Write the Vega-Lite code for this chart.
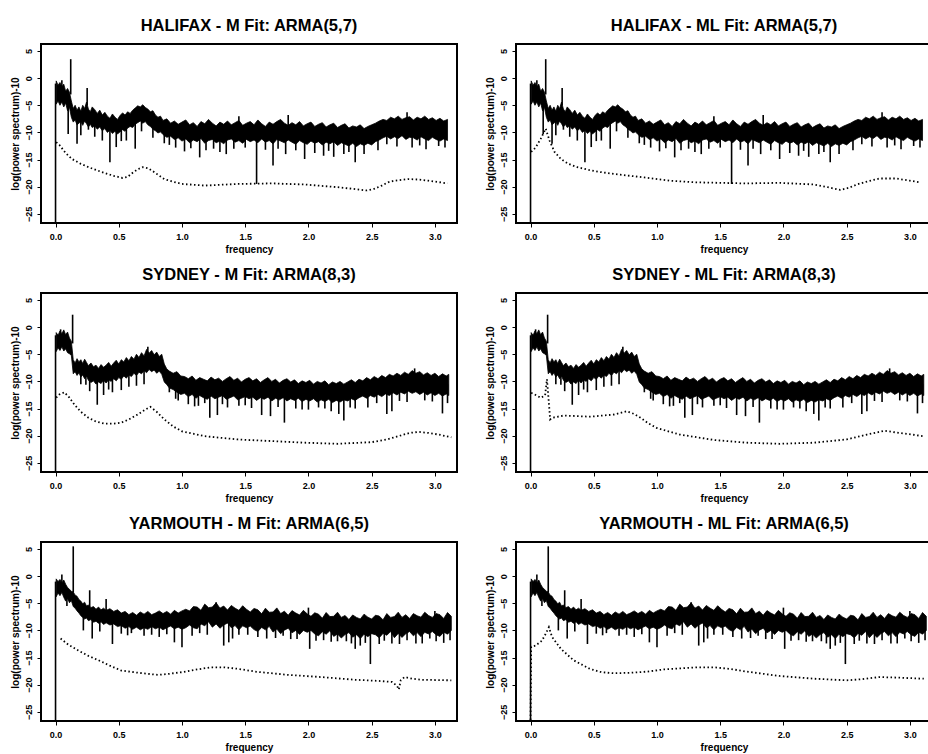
{
"$schema":"https://vega.github.io/schema/vega-lite/v6.json",
"padding":{"left":9,"top":16,"right":0,"bottom":0},
"background":"white",
"datasets":{
"hal":[{"f":0.005,"hi":-0.5,"y":-4.8},{"f":0.02,"hi":-1.3,"y":-4.2},{"f":0.035,"hi":-0.8,"y":-5.0},{"f":0.05,"hi":-1.6,"y":-4.4},{"f":0.065,"hi":-1.1,"y":-5.3},{"f":0.08,"hi":-2.4,"y":-4.6},{"f":0.095,"hi":-1.9,"y":-6.0},{"f":0.11,"hi":-2.6,"y":-5.4},{"f":0.125,"hi":-4.2,"y":-7.2},{"f":0.14,"hi":-5.6,"y":-8.1},{"f":0.155,"hi":-5.0,"y":-7.7},{"f":0.17,"hi":-5.9,"y":-8.6},{"f":0.185,"hi":-5.3,"y":-8.3},{"f":0.20,"hi":-6.1,"y":-8.0},{"f":0.215,"hi":-5.0,"y":-8.7},{"f":0.23,"hi":-5.6,"y":-7.9},{"f":0.245,"hi":-4.4,"y":-8.4},{"f":0.26,"hi":-5.7,"y":-9.0},{"f":0.275,"hi":-6.2,"y":-8.5},{"f":0.29,"hi":-5.3,"y":-9.1},{"f":0.31,"hi":-5.8,"y":-8.8},{"f":0.33,"hi":-6.5,"y":-9.4},{"f":0.35,"hi":-5.9,"y":-9.0},{"f":0.37,"hi":-6.8,"y":-9.7},{"f":0.39,"hi":-6.3,"y":-9.3},{"f":0.41,"hi":-7.0,"y":-10.0},{"f":0.43,"hi":-7.4,"y":-9.6},{"f":0.45,"hi":-6.6,"y":-10.2},{"f":0.47,"hi":-7.2,"y":-9.8},{"f":0.49,"hi":-7.6,"y":-10.3},{"f":0.51,"hi":-6.9,"y":-9.9},{"f":0.53,"hi":-6.4,"y":-9.5},{"f":0.55,"hi":-6.8,"y":-9.8},{"f":0.57,"hi":-6.2,"y":-9.2},{"f":0.59,"hi":-6.5,"y":-8.9},{"f":0.61,"hi":-5.9,"y":-9.1},{"f":0.63,"hi":-5.5,"y":-8.5},{"f":0.65,"hi":-5.1,"y":-8.2},{"f":0.67,"hi":-5.3,"y":-7.9},{"f":0.69,"hi":-4.9,"y":-8.3},{"f":0.71,"hi":-5.4,"y":-8.0},{"f":0.73,"hi":-5.7,"y":-8.6},{"f":0.75,"hi":-6.2,"y":-8.9},{"f":0.77,"hi":-6.0,"y":-9.4},{"f":0.79,"hi":-6.8,"y":-9.7},{"f":0.81,"hi":-7.2,"y":-10.1},{"f":0.83,"hi":-7.0,"y":-9.9},{"f":0.85,"hi":-7.8,"y":-10.4},{"f":0.88,"hi":-7.5,"y":-10.9},{"f":0.91,"hi":-8.3,"y":-10.7},{"f":0.94,"hi":-7.9,"y":-11.3},{"f":0.97,"hi":-8.5,"y":-11.0},{"f":1.00,"hi":-8.1,"y":-11.6},{"f":1.03,"hi":-7.7,"y":-11.2},{"f":1.06,"hi":-8.6,"y":-11.9},{"f":1.09,"hi":-8.2,"y":-11.4},{"f":1.12,"hi":-8.9,"y":-11.7},{"f":1.15,"hi":-8.0,"y":-11.1},{"f":1.18,"hi":-8.4,"y":-12.0},{"f":1.21,"hi":-7.6,"y":-11.5},{"f":1.24,"hi":-8.3,"y":-11.3},{"f":1.27,"hi":-8.8,"y":-11.9},{"f":1.30,"hi":-8.1,"y":-11.6},{"f":1.33,"hi":-8.5,"y":-12.1},{"f":1.36,"hi":-7.9,"y":-11.4},{"f":1.39,"hi":-8.6,"y":-11.2},{"f":1.42,"hi":-8.2,"y":-11.8},{"f":1.45,"hi":-7.8,"y":-11.5},{"f":1.48,"hi":-8.7,"y":-12.0},{"f":1.51,"hi":-8.3,"y":-11.3},{"f":1.54,"hi":-8.0,"y":-11.7},{"f":1.57,"hi":-8.6,"y":-11.4},{"f":1.60,"hi":-7.7,"y":-11.9},{"f":1.63,"hi":-8.4,"y":-11.2},{"f":1.66,"hi":-8.9,"y":-11.8},{"f":1.69,"hi":-8.1,"y":-11.5},{"f":1.72,"hi":-8.5,"y":-12.1},{"f":1.75,"hi":-8.0,"y":-11.3},{"f":1.78,"hi":-7.6,"y":-11.6},{"f":1.81,"hi":-8.3,"y":-11.9},{"f":1.84,"hi":-8.7,"y":-11.4},{"f":1.87,"hi":-8.2,"y":-11.8},{"f":1.90,"hi":-8.6,"y":-12.2},{"f":1.93,"hi":-8.0,"y":-11.5},{"f":1.96,"hi":-8.8,"y":-11.9},{"f":1.99,"hi":-8.4,"y":-12.2},{"f":2.02,"hi":-8.1,"y":-11.6},{"f":2.05,"hi":-8.9,"y":-12.0},{"f":2.08,"hi":-8.5,"y":-11.7},{"f":2.11,"hi":-8.2,"y":-12.3},{"f":2.14,"hi":-9.0,"y":-11.8},{"f":2.17,"hi":-8.6,"y":-12.1},{"f":2.20,"hi":-8.3,"y":-11.7},{"f":2.23,"hi":-9.1,"y":-12.4},{"f":2.26,"hi":-8.7,"y":-11.9},{"f":2.29,"hi":-8.4,"y":-12.2},{"f":2.32,"hi":-9.2,"y":-12.5},{"f":2.35,"hi":-8.8,"y":-12.0},{"f":2.38,"hi":-9.0,"y":-12.6},{"f":2.41,"hi":-8.6,"y":-12.1},{"f":2.44,"hi":-9.3,"y":-12.4},{"f":2.47,"hi":-8.9,"y":-12.0},{"f":2.50,"hi":-8.6,"y":-12.3},{"f":2.53,"hi":-8.3,"y":-11.7},{"f":2.56,"hi":-7.9,"y":-11.4},{"f":2.59,"hi":-7.6,"y":-11.0},{"f":2.62,"hi":-7.8,"y":-10.7},{"f":2.65,"hi":-7.2,"y":-11.2},{"f":2.68,"hi":-7.5,"y":-10.8},{"f":2.71,"hi":-7.0,"y":-11.1},{"f":2.74,"hi":-7.6,"y":-10.6},{"f":2.77,"hi":-7.3,"y":-11.3},{"f":2.80,"hi":-7.1,"y":-10.9},{"f":2.83,"hi":-7.7,"y":-11.0},{"f":2.86,"hi":-7.2,"y":-11.4},{"f":2.89,"hi":-7.5,"y":-10.8},{"f":2.92,"hi":-7.0,"y":-11.2},{"f":2.95,"hi":-7.6,"y":-11.5},{"f":2.98,"hi":-7.3,"y":-10.9},{"f":3.01,"hi":-7.8,"y":-11.3},{"f":3.04,"hi":-7.4,"y":-11.6},{"f":3.07,"hi":-7.9,"y":-11.2},{"f":3.10,"hi":-7.6,"y":-11.5}],
"hal_sp":[{"f":0,"y":-26.7,"b":-1},{"f":0.12,"y":3.5,"b":-3},{"f":0.05,"y":-0.4,"b":-2},{"f":0.25,"y":-1.8,"b":-5},{"f":0.10,"y":-10.3,"b":-4},{"f":0.17,"y":-12.1,"b":-7},{"f":0.20,"y":-10.5,"b":-7},{"f":0.26,"y":-9.5,"b":-7},{"f":0.31,"y":-10.8,"b":-7.5},{"f":0.37,"y":-11.5,"b":-7.5},{"f":0.43,"y":-15.5,"b":-8},{"f":0.48,"y":-12.7,"b":-8.5},{"f":0.56,"y":-11.5,"b":-8},{"f":0.63,"y":-13.0,"b":-7},{"f":0.77,"y":-11.0,"b":-8},{"f":0.86,"y":-12.0,"b":-9},{"f":0.95,"y":-12.8,"b":-9.5},{"f":1.02,"y":-13.5,"b":-10},{"f":1.14,"y":-14.6,"b":-10},{"f":1.19,"y":-13.3,"b":-10},{"f":1.30,"y":-13.6,"b":-10},{"f":1.35,"y":-14.0,"b":-10},{"f":1.41,"y":-13.0,"b":-10},{"f":1.59,"y":-19.5,"b":-10},{"f":1.66,"y":-13.2,"b":-10},{"f":1.72,"y":-16.1,"b":-10},{"f":1.82,"y":-14.0,"b":-10},{"f":1.97,"y":-14.9,"b":-10},{"f":2.05,"y":-13.8,"b":-10},{"f":2.12,"y":-14.3,"b":-10},{"f":2.20,"y":-14.5,"b":-10},{"f":2.28,"y":-14.0,"b":-10.5},{"f":2.37,"y":-15.5,"b":-10.5},{"f":2.44,"y":-14.0,"b":-10.5},{"f":2.55,"y":-13.3,"b":-10},{"f":2.70,"y":-12.6,"b":-9},{"f":2.82,"y":-12.8,"b":-9},{"f":2.93,"y":-13.1,"b":-9},{"f":3.03,"y":-12.5,"b":-9},{"f":1.45,"y":-7.0,"b":-9},{"f":1.84,"y":-6.8,"b":-9},{"f":2.78,"y":-6.3,"b":-8},{"f":0.90,"y":-12.3,"b":-9.5},{"f":1.07,"y":-12.9,"b":-10},{"f":1.25,"y":-13.0,"b":-10},{"f":1.50,"y":-12.8,"b":-10},{"f":1.76,"y":-13.0,"b":-10},{"f":1.90,"y":-13.3,"b":-10},{"f":2.16,"y":-13.4,"b":-10},{"f":2.32,"y":-13.6,"b":-10.5},{"f":2.62,"y":-12.2,"b":-9},{"f":2.88,"y":-12.4,"b":-9},{"f":3.08,"y":-12.8,"b":-9},{"f":0.52,"y":-11.6,"b":-8},{"f":0.68,"y":-9.8,"b":-7}],
"hal_m":[{"f":0.005,"y":-11.8},{"f":0.03,"y":-12.3},{"f":0.08,"y":-13.8},{"f":0.13,"y":-14.9},{"f":0.2,"y":-15.8},{"f":0.26,"y":-16.4},{"f":0.33,"y":-17.0},{"f":0.39,"y":-17.5},{"f":0.46,"y":-18.0},{"f":0.53,"y":-18.4},{"f":0.57,"y":-18.2},{"f":0.6,"y":-17.6},{"f":0.65,"y":-16.8},{"f":0.69,"y":-16.4},{"f":0.73,"y":-16.6},{"f":0.76,"y":-17.0},{"f":0.81,"y":-17.8},{"f":0.86,"y":-18.6},{"f":0.93,"y":-19.1},{"f":1.0,"y":-19.5},{"f":1.18,"y":-19.8},{"f":1.44,"y":-19.5},{"f":1.71,"y":-19.4},{"f":1.97,"y":-19.6},{"f":2.23,"y":-20.1},{"f":2.35,"y":-20.4},{"f":2.46,"y":-20.7},{"f":2.52,"y":-20.4},{"f":2.58,"y":-19.8},{"f":2.63,"y":-19.2},{"f":2.68,"y":-18.9},{"f":2.79,"y":-18.6},{"f":2.88,"y":-18.7},{"f":2.95,"y":-18.9},{"f":3.10,"y":-19.4}],
"hal_ml":[{"f":0.005,"y":-13.6},{"f":0.04,"y":-12.8},{"f":0.08,"y":-11.2},{"f":0.12,"y":-9.3},{"f":0.15,"y":-11.5},{"f":0.19,"y":-13.6},{"f":0.24,"y":-14.9},{"f":0.3,"y":-15.8},{"f":0.37,"y":-16.4},{"f":0.46,"y":-16.9},{"f":0.55,"y":-17.3},{"f":0.71,"y":-17.8},{"f":0.9,"y":-18.3},{"f":1.1,"y":-18.9},{"f":1.3,"y":-19.2},{"f":1.5,"y":-19.3},{"f":1.7,"y":-19.4},{"f":1.97,"y":-19.3},{"f":2.24,"y":-19.6},{"f":2.35,"y":-20.1},{"f":2.45,"y":-20.6},{"f":2.52,"y":-20.2},{"f":2.58,"y":-19.6},{"f":2.67,"y":-19.0},{"f":2.76,"y":-18.5},{"f":2.89,"y":-18.5},{"f":3.0,"y":-18.9},{"f":3.08,"y":-19.2}],
"syd":[{"f":0.005,"hi":-1.0,"y":-4.5},{"f":0.02,"hi":-1.5,"y":-3.8},{"f":0.035,"hi":-0.7,"y":-4.3},{"f":0.05,"hi":-1.2,"y":-3.6},{"f":0.065,"hi":-0.5,"y":-4.4},{"f":0.08,"hi":-1.4,"y":-4.0},{"f":0.095,"hi":-0.9,"y":-4.7},{"f":0.11,"hi":-2.0,"y":-4.9},{"f":0.125,"hi":-2.6,"y":-5.2},{"f":0.14,"hi":-6.0,"y":-8.6},{"f":0.155,"hi":-6.6,"y":-8.2},{"f":0.17,"hi":-5.8,"y":-8.9},{"f":0.185,"hi":-6.4,"y":-8.4},{"f":0.20,"hi":-6.0,"y":-9.2},{"f":0.215,"hi":-6.7,"y":-8.8},{"f":0.23,"hi":-5.9,"y":-9.5},{"f":0.245,"hi":-6.5,"y":-9.0},{"f":0.26,"hi":-7.1,"y":-9.8},{"f":0.28,"hi":-6.6,"y":-10.2},{"f":0.30,"hi":-7.3,"y":-9.9},{"f":0.32,"hi":-7.0,"y":-10.5},{"f":0.34,"hi":-7.6,"y":-10.1},{"f":0.36,"hi":-6.9,"y":-10.4},{"f":0.38,"hi":-7.4,"y":-9.8},{"f":0.40,"hi":-7.0,"y":-10.3},{"f":0.42,"hi":-6.5,"y":-9.7},{"f":0.44,"hi":-7.2,"y":-10.0},{"f":0.46,"hi":-6.6,"y":-9.5},{"f":0.48,"hi":-6.1,"y":-9.9},{"f":0.50,"hi":-6.8,"y":-9.3},{"f":0.52,"hi":-6.0,"y":-9.6},{"f":0.54,"hi":-6.4,"y":-9.0},{"f":0.56,"hi":-5.6,"y":-9.4},{"f":0.58,"hi":-6.2,"y":-8.8},{"f":0.60,"hi":-5.4,"y":-9.1},{"f":0.62,"hi":-5.9,"y":-8.5},{"f":0.64,"hi":-5.0,"y":-8.9},{"f":0.66,"hi":-5.6,"y":-8.3},{"f":0.68,"hi":-4.7,"y":-8.6},{"f":0.70,"hi":-5.3,"y":-8.0},{"f":0.72,"hi":-4.1,"y":-8.4},{"f":0.74,"hi":-4.8,"y":-7.8},{"f":0.76,"hi":-4.3,"y":-8.2},{"f":0.78,"hi":-5.1,"y":-7.9},{"f":0.80,"hi":-4.6,"y":-8.5},{"f":0.82,"hi":-5.4,"y":-8.1},{"f":0.84,"hi":-5.0,"y":-8.7},{"f":0.86,"hi":-6.8,"y":-10.1},{"f":0.88,"hi":-7.7,"y":-10.6},{"f":0.90,"hi":-8.1,"y":-11.2},{"f":0.93,"hi":-8.5,"y":-11.5},{"f":0.96,"hi":-8.2,"y":-12.0},{"f":0.99,"hi":-9.0,"y":-12.4},{"f":1.02,"hi":-9.1,"y":-12.2},{"f":1.05,"hi":-9.5,"y":-12.8},{"f":1.08,"hi":-9.0,"y":-12.4},{"f":1.11,"hi":-9.8,"y":-13.1},{"f":1.14,"hi":-9.3,"y":-12.6},{"f":1.17,"hi":-9.6,"y":-13.0},{"f":1.20,"hi":-9.9,"y":-13.3},{"f":1.23,"hi":-9.2,"y":-12.7},{"f":1.26,"hi":-9.7,"y":-13.2},{"f":1.29,"hi":-9.4,"y":-12.9},{"f":1.32,"hi":-10.0,"y":-12.6},{"f":1.35,"hi":-9.5,"y":-13.3},{"f":1.38,"hi":-9.1,"y":-13.0},{"f":1.41,"hi":-9.8,"y":-12.7},{"f":1.44,"hi":-9.4,"y":-13.4},{"f":1.47,"hi":-10.1,"y":-13.1},{"f":1.50,"hi":-9.6,"y":-12.8},{"f":1.53,"hi":-9.3,"y":-13.2},{"f":1.56,"hi":-9.9,"y":-12.9},{"f":1.59,"hi":-9.5,"y":-13.5},{"f":1.62,"hi":-10.2,"y":-13.0},{"f":1.65,"hi":-9.7,"y":-13.3},{"f":1.68,"hi":-9.3,"y":-12.9},{"f":1.71,"hi":-10.0,"y":-13.6},{"f":1.74,"hi":-9.6,"y":-13.1},{"f":1.77,"hi":-10.3,"y":-13.4},{"f":1.80,"hi":-9.8,"y":-13.0},{"f":1.83,"hi":-9.5,"y":-13.6},{"f":1.86,"hi":-10.1,"y":-13.2},{"f":1.89,"hi":-9.7,"y":-13.5},{"f":1.92,"hi":-10.4,"y":-13.1},{"f":1.95,"hi":-9.9,"y":-13.7},{"f":1.98,"hi":-10.2,"y":-13.3},{"f":2.01,"hi":-9.8,"y":-13.6},{"f":2.04,"hi":-10.5,"y":-13.2},{"f":2.07,"hi":-10.0,"y":-13.8},{"f":2.10,"hi":-10.3,"y":-13.4},{"f":2.13,"hi":-9.9,"y":-13.7},{"f":2.16,"hi":-10.6,"y":-13.3},{"f":2.19,"hi":-10.1,"y":-13.9},{"f":2.22,"hi":-10.4,"y":-13.5},{"f":2.25,"hi":-10.0,"y":-13.8},{"f":2.28,"hi":-10.5,"y":-13.4},{"f":2.31,"hi":-10.1,"y":-13.6},{"f":2.34,"hi":-9.7,"y":-13.2},{"f":2.37,"hi":-10.2,"y":-13.5},{"f":2.40,"hi":-9.6,"y":-13.0},{"f":2.43,"hi":-9.9,"y":-12.7},{"f":2.46,"hi":-9.3,"y":-13.1},{"f":2.49,"hi":-9.7,"y":-12.6},{"f":2.52,"hi":-9.1,"y":-12.9},{"f":2.55,"hi":-9.5,"y":-12.4},{"f":2.58,"hi":-8.9,"y":-12.8},{"f":2.61,"hi":-9.3,"y":-12.3},{"f":2.64,"hi":-8.7,"y":-12.6},{"f":2.67,"hi":-9.0,"y":-12.1},{"f":2.70,"hi":-8.5,"y":-12.5},{"f":2.73,"hi":-8.9,"y":-12.0},{"f":2.76,"hi":-8.3,"y":-12.3},{"f":2.79,"hi":-8.7,"y":-11.8},{"f":2.82,"hi":-8.0,"y":-12.2},{"f":2.85,"hi":-8.5,"y":-11.9},{"f":2.88,"hi":-8.2,"y":-12.4},{"f":2.91,"hi":-8.8,"y":-12.0},{"f":2.94,"hi":-8.4,"y":-12.5},{"f":2.97,"hi":-8.9,"y":-12.1},{"f":3.00,"hi":-8.5,"y":-12.6},{"f":3.03,"hi":-9.1,"y":-12.2},{"f":3.06,"hi":-8.6,"y":-12.7},{"f":3.09,"hi":-9.0,"y":-12.3},{"f":3.11,"hi":-8.7,"y":-12.6}],
"syd_sp":[{"f":0,"y":-26.7,"b":-1.5},{"f":0.135,"y":2.3,"b":-3},{"f":0.04,"y":-0.4,"b":-2},{"f":0.20,"y":-10.5,"b":-7},{"f":0.27,"y":-11.8,"b":-8},{"f":0.33,"y":-14.3,"b":-8.5},{"f":0.38,"y":-12.5,"b":-8.5},{"f":0.45,"y":-12.0,"b":-8.5},{"f":0.52,"y":-11.6,"b":-8},{"f":0.58,"y":-11.0,"b":-7.5},{"f":0.64,"y":-10.8,"b":-7},{"f":0.70,"y":-10.5,"b":-7},{"f":0.90,"y":-12.0,"b":-9.5},{"f":0.97,"y":-13.5,"b":-10},{"f":1.05,"y":-14.2,"b":-11},{"f":1.13,"y":-14.5,"b":-11},{"f":1.22,"y":-16.7,"b":-11},{"f":1.28,"y":-16.2,"b":-11},{"f":1.36,"y":-14.8,"b":-11},{"f":1.45,"y":-14.5,"b":-11},{"f":1.55,"y":-14.9,"b":-11},{"f":1.63,"y":-16.2,"b":-11},{"f":1.70,"y":-16.4,"b":-11.5},{"f":1.81,"y":-17.6,"b":-11.5},{"f":1.90,"y":-15.0,"b":-11.5},{"f":2.00,"y":-15.2,"b":-11.5},{"f":2.08,"y":-14.8,"b":-11.5},{"f":2.18,"y":-15.5,"b":-11.5},{"f":2.24,"y":-16.0,"b":-11.5},{"f":2.28,"y":-17.2,"b":-11.5},{"f":2.37,"y":-15.0,"b":-11.5},{"f":2.47,"y":-14.8,"b":-11},{"f":2.62,"y":-16.0,"b":-10.5},{"f":2.66,"y":-15.5,"b":-10.5},{"f":2.78,"y":-13.8,"b":-10},{"f":2.92,"y":-13.5,"b":-10},{"f":3.06,"y":-15.9,"b":-10.5},{"f":3.10,"y":-14.0,"b":-10.5},{"f":0.73,"y":-3.6,"b":-5},{"f":2.84,"y":-7.6,"b":-9},{"f":0.24,"y":-10.6,"b":-7.5},{"f":0.42,"y":-11.5,"b":-8.5},{"f":0.95,"y":-13.2,"b":-10},{"f":1.10,"y":-14.6,"b":-11},{"f":1.18,"y":-14.0,"b":-11},{"f":1.32,"y":-14.2,"b":-11},{"f":1.50,"y":-14.4,"b":-11},{"f":1.76,"y":-14.7,"b":-11.5},{"f":1.95,"y":-15.2,"b":-11.5},{"f":2.13,"y":-15.0,"b":-11.5},{"f":2.33,"y":-14.8,"b":-11.5},{"f":2.54,"y":-14.0,"b":-11},{"f":2.72,"y":-13.6,"b":-10.5},{"f":2.98,"y":-13.7,"b":-10.5}],
"syd_m":[{"f":0.005,"y":-13.0},{"f":0.03,"y":-12.4},{"f":0.07,"y":-12.0},{"f":0.11,"y":-13.0},{"f":0.15,"y":-14.3},{"f":0.2,"y":-15.6},{"f":0.26,"y":-16.7},{"f":0.32,"y":-17.4},{"f":0.39,"y":-17.8},{"f":0.45,"y":-17.8},{"f":0.52,"y":-17.6},{"f":0.58,"y":-17.0},{"f":0.65,"y":-16.1},{"f":0.71,"y":-15.2},{"f":0.75,"y":-14.7},{"f":0.8,"y":-15.6},{"f":0.86,"y":-17.0},{"f":0.93,"y":-18.3},{"f":1.0,"y":-19.2},{"f":1.18,"y":-20.1},{"f":1.44,"y":-20.7},{"f":1.71,"y":-21.0},{"f":1.97,"y":-21.3},{"f":2.23,"y":-21.5},{"f":2.5,"y":-21.2},{"f":2.62,"y":-20.7},{"f":2.71,"y":-20.1},{"f":2.8,"y":-19.5},{"f":2.87,"y":-19.3},{"f":2.95,"y":-19.5},{"f":3.03,"y":-19.8},{"f":3.13,"y":-20.3}],
"syd_ml":[{"f":0.005,"y":-12.1},{"f":0.04,"y":-12.5},{"f":0.08,"y":-13.0},{"f":0.115,"y":-12.6},{"f":0.13,"y":-9.6},{"f":0.145,"y":-14.0},{"f":0.155,"y":-17.0},{"f":0.17,"y":-16.7},{"f":0.26,"y":-16.3},{"f":0.37,"y":-16.4},{"f":0.47,"y":-16.5},{"f":0.57,"y":-16.3},{"f":0.66,"y":-16.1},{"f":0.76,"y":-15.5},{"f":0.82,"y":-16.0},{"f":0.87,"y":-16.7},{"f":0.93,"y":-17.7},{"f":1.0,"y":-18.6},{"f":1.18,"y":-19.8},{"f":1.45,"y":-20.8},{"f":1.71,"y":-21.3},{"f":1.97,"y":-21.5},{"f":2.24,"y":-21.3},{"f":2.5,"y":-20.7},{"f":2.66,"y":-19.8},{"f":2.8,"y":-19.1},{"f":2.92,"y":-19.5},{"f":3.11,"y":-20.1}],
"yar":[{"f":0.005,"hi":-0.5,"y":-3.8},{"f":0.02,"hi":-1.0,"y":-3.1},{"f":0.035,"hi":-0.6,"y":-3.6},{"f":0.05,"hi":-1.3,"y":-3.0},{"f":0.065,"hi":-0.7,"y":-3.9},{"f":0.08,"hi":-1.5,"y":-4.6},{"f":0.095,"hi":-2.1,"y":-4.1},{"f":0.11,"hi":-2.4,"y":-4.9},{"f":0.125,"hi":-2.8,"y":-4.5},{"f":0.14,"hi":-2.9,"y":-5.6},{"f":0.155,"hi":-3.5,"y":-5.9},{"f":0.17,"hi":-3.7,"y":-6.4},{"f":0.185,"hi":-4.3,"y":-6.8},{"f":0.20,"hi":-4.6,"y":-7.3},{"f":0.215,"hi":-5.1,"y":-7.6},{"f":0.23,"hi":-4.8,"y":-7.9},{"f":0.245,"hi":-5.5,"y":-7.7},{"f":0.26,"hi":-5.3,"y":-8.2},{"f":0.28,"hi":-5.8,"y":-8.0},{"f":0.30,"hi":-5.6,"y":-8.5},{"f":0.32,"hi":-6.1,"y":-8.3},{"f":0.34,"hi":-5.7,"y":-8.7},{"f":0.36,"hi":-6.2,"y":-8.4},{"f":0.38,"hi":-5.9,"y":-8.9},{"f":0.40,"hi":-6.3,"y":-8.6},{"f":0.43,"hi":-6.0,"y":-9.0},{"f":0.46,"hi":-6.5,"y":-8.8},{"f":0.49,"hi":-6.2,"y":-9.3},{"f":0.52,"hi":-6.8,"y":-9.1},{"f":0.55,"hi":-6.5,"y":-9.6},{"f":0.58,"hi":-7.1,"y":-9.3},{"f":0.61,"hi":-6.7,"y":-9.8},{"f":0.64,"hi":-7.2,"y":-9.4},{"f":0.67,"hi":-6.6,"y":-9.9},{"f":0.70,"hi":-7.0,"y":-9.5},{"f":0.73,"hi":-6.5,"y":-9.8},{"f":0.76,"hi":-7.1,"y":-9.3},{"f":0.79,"hi":-6.8,"y":-9.7},{"f":0.82,"hi":-6.4,"y":-9.4},{"f":0.85,"hi":-6.9,"y":-9.9},{"f":0.88,"hi":-6.5,"y":-9.5},{"f":0.91,"hi":-7.0,"y":-9.2},{"f":0.94,"hi":-6.3,"y":-9.7},{"f":0.97,"hi":-6.8,"y":-9.4},{"f":1.00,"hi":-6.4,"y":-9.8},{"f":1.03,"hi":-6.1,"y":-9.5},{"f":1.06,"hi":-6.4,"y":-9.0},{"f":1.09,"hi":-5.6,"y":-9.5},{"f":1.12,"hi":-5.7,"y":-9.7},{"f":1.15,"hi":-6.3,"y":-8.8},{"f":1.18,"hi":-5.15,"y":-9.15},{"f":1.21,"hi":-5.8,"y":-8.4},{"f":1.24,"hi":-5.7,"y":-9.4},{"f":1.27,"hi":-4.9,"y":-8.8},{"f":1.30,"hi":-5.9,"y":-9.6},{"f":1.33,"hi":-5.5,"y":-9.0},{"f":1.36,"hi":-6.25,"y":-8.65},{"f":1.39,"hi":-5.4,"y":-9.5},{"f":1.42,"hi":-5.9,"y":-9.1},{"f":1.45,"hi":-6.3,"y":-9.9},{"f":1.48,"hi":-5.45,"y":-9.15},{"f":1.51,"hi":-6.1,"y":-9.5},{"f":1.54,"hi":-6.6,"y":-9.2},{"f":1.57,"hi":-5.95,"y":-9.85},{"f":1.60,"hi":-6.2,"y":-10.2},{"f":1.63,"hi":-6.95,"y":-9.45},{"f":1.66,"hi":-5.9,"y":-9.9},{"f":1.69,"hi":-6.65,"y":-9.25},{"f":1.72,"hi":-6.6,"y":-10.3},{"f":1.75,"hi":-5.85,"y":-9.75},{"f":1.78,"hi":-6.9,"y":-10.6},{"f":1.81,"hi":-6.45,"y":-9.95},{"f":1.84,"hi":-7.2,"y":-9.6},{"f":1.87,"hi":-6.35,"y":-10.45},{"f":1.90,"hi":-6.8,"y":-10.0},{"f":1.93,"hi":-7.15,"y":-10.75},{"f":1.96,"hi":-6.3,"y":-10.0},{"f":1.99,"hi":-6.95,"y":-10.35},{"f":2.02,"hi":-7.4,"y":-10.0},{"f":2.05,"hi":-6.75,"y":-10.65},{"f":2.08,"hi":-7.0,"y":-11.0},{"f":2.11,"hi":-7.75,"y":-10.25},{"f":2.14,"hi":-6.7,"y":-10.7},{"f":2.17,"hi":-7.45,"y":-10.05},{"f":2.20,"hi":-7.4,"y":-11.1},{"f":2.23,"hi":-6.65,"y":-10.65},{"f":2.26,"hi":-7.6,"y":-11.4},{"f":2.29,"hi":-7.25,"y":-10.75},{"f":2.32,"hi":-8.0,"y":-10.4},{"f":2.35,"hi":-7.15,"y":-11.25},{"f":2.38,"hi":-7.6,"y":-10.8},{"f":2.41,"hi":-7.9,"y":-11.5},{"f":2.44,"hi":-7.0,"y":-10.7},{"f":2.47,"hi":-7.55,"y":-11.15},{"f":2.50,"hi":-7.9,"y":-10.6},{"f":2.53,"hi":-7.2,"y":-10.8},{"f":2.56,"hi":-7.35,"y":-11.35},{"f":2.59,"hi":-8.05,"y":-10.55},{"f":2.62,"hi":-6.9,"y":-10.9},{"f":2.65,"hi":-7.6,"y":-10.2},{"f":2.68,"hi":-7.45,"y":-11.35},{"f":2.71,"hi":-6.65,"y":-10.55},{"f":2.74,"hi":-7.6,"y":-11.3},{"f":2.77,"hi":-7.1,"y":-10.6},{"f":2.80,"hi":-7.8,"y":-10.2},{"f":2.83,"hi":-6.9,"y":-11.0},{"f":2.86,"hi":-7.3,"y":-10.4},{"f":2.89,"hi":-7.55,"y":-11.15},{"f":2.92,"hi":-6.65,"y":-10.35},{"f":2.95,"hi":-7.25,"y":-10.65},{"f":2.98,"hi":-7.6,"y":-10.2},{"f":3.01,"hi":-6.9,"y":-10.8},{"f":3.04,"hi":-7.1,"y":-11.1},{"f":3.07,"hi":-7.8,"y":-10.3},{"f":3.10,"hi":-6.7,"y":-10.7},{"f":3.13,"hi":-7.4,"y":-10.0}],
"yar_sp":[{"f":0,"y":-26.7,"b":-1},{"f":0.14,"y":5.5,"b":-3},{"f":0.05,"y":0.3,"b":-2},{"f":0.27,"y":-2.6,"b":-6},{"f":0.40,"y":-4.2,"b":-7},{"f":0.09,"y":-5.5,"b":-3},{"f":0.22,"y":-10.0,"b":-6},{"f":0.29,"y":-11.5,"b":-7},{"f":0.35,"y":-10.2,"b":-7},{"f":0.45,"y":-12.5,"b":-7.5},{"f":0.52,"y":-10.6,"b":-8},{"f":0.60,"y":-10.5,"b":-8},{"f":0.70,"y":-11.0,"b":-8},{"f":0.82,"y":-11.2,"b":-8},{"f":0.94,"y":-12.2,"b":-8},{"f":1.00,"y":-13.1,"b":-8},{"f":1.08,"y":-11.0,"b":-8},{"f":1.20,"y":-10.8,"b":-7.5},{"f":1.33,"y":-12.8,"b":-7.5},{"f":1.37,"y":-12.2,"b":-7.5},{"f":1.40,"y":-11.5,"b":-7.5},{"f":1.52,"y":-10.8,"b":-8},{"f":1.67,"y":-11.5,"b":-8},{"f":1.80,"y":-11.0,"b":-8.5},{"f":1.91,"y":-11.6,"b":-8.5},{"f":2.01,"y":-13.4,"b":-8.5},{"f":2.12,"y":-11.8,"b":-9},{"f":2.23,"y":-12.0,"b":-9},{"f":2.30,"y":-12.0,"b":-9},{"f":2.37,"y":-13.4,"b":-9},{"f":2.41,"y":-12.8,"b":-9},{"f":2.49,"y":-16.2,"b":-9},{"f":2.56,"y":-12.5,"b":-9},{"f":2.66,"y":-12.4,"b":-9},{"f":2.72,"y":-12.5,"b":-9},{"f":2.85,"y":-12.4,"b":-9},{"f":2.90,"y":-12.4,"b":-9},{"f":3.01,"y":-12.0,"b":-9},{"f":3.07,"y":-12.3,"b":-9},{"f":1.27,"y":-4.8,"b":-6.5},{"f":2.00,"y":-5.8,"b":-7.5},{"f":3.00,"y":-6.4,"b":-8},{"f":0.57,"y":-10.9,"b":-8},{"f":0.76,"y":-10.8,"b":-8},{"f":0.88,"y":-10.7,"b":-8},{"f":1.14,"y":-10.5,"b":-7.5},{"f":1.45,"y":-10.8,"b":-8},{"f":1.60,"y":-11.2,"b":-8},{"f":1.74,"y":-11.4,"b":-8.5},{"f":1.86,"y":-11.6,"b":-8.5},{"f":2.06,"y":-11.9,"b":-9},{"f":2.18,"y":-12.1,"b":-9},{"f":2.34,"y":-12.4,"b":-9},{"f":2.45,"y":-12.3,"b":-9},{"f":2.60,"y":-11.9,"b":-9},{"f":2.78,"y":-11.8,"b":-9},{"f":2.96,"y":-11.5,"b":-9},{"f":3.12,"y":-11.8,"b":-9}],
"yar_m":[{"f":0.04,"y":-11.5},{"f":0.1,"y":-12.6},{"f":0.18,"y":-13.7},{"f":0.26,"y":-14.7},{"f":0.34,"y":-15.5},{"f":0.43,"y":-16.5},{"f":0.52,"y":-17.4},{"f":0.65,"y":-17.8},{"f":0.81,"y":-18.2},{"f":0.9,"y":-18.0},{"f":1.0,"y":-17.7},{"f":1.12,"y":-17.2},{"f":1.23,"y":-16.8},{"f":1.34,"y":-16.8},{"f":1.45,"y":-17.1},{"f":1.58,"y":-17.6},{"f":1.84,"y":-18.2},{"f":2.1,"y":-18.6},{"f":2.37,"y":-19.1},{"f":2.55,"y":-19.3},{"f":2.66,"y":-19.5},{"f":2.7,"y":-20.2},{"f":2.715,"y":-20.9},{"f":2.73,"y":-19.2},{"f":2.76,"y":-18.6},{"f":2.82,"y":-18.9},{"f":2.89,"y":-19.1},{"f":3.13,"y":-19.2}],
"yar_ml":[{"f":0.0,"y":-26.5},{"f":0.005,"y":-13.0},{"f":0.04,"y":-12.8},{"f":0.09,"y":-11.9},{"f":0.125,"y":-10.4},{"f":0.145,"y":-9.4},{"f":0.17,"y":-11.2},{"f":0.24,"y":-13.4},{"f":0.34,"y":-15.5},{"f":0.47,"y":-17.1},{"f":0.56,"y":-17.7},{"f":0.66,"y":-17.9},{"f":0.8,"y":-17.8},{"f":0.92,"y":-17.6},{"f":1.05,"y":-17.2},{"f":1.18,"y":-17.0},{"f":1.32,"y":-16.8},{"f":1.45,"y":-16.8},{"f":1.58,"y":-17.1},{"f":1.71,"y":-17.6},{"f":1.84,"y":-18.0},{"f":1.97,"y":-18.4},{"f":2.24,"y":-18.9},{"f":2.5,"y":-19.2},{"f":2.62,"y":-19.0},{"f":2.76,"y":-18.6},{"f":2.9,"y":-18.7},{"f":3.11,"y":-18.9}]
},
"columns":2,
"spacing":{"row":10,"column":26},
"concat":[
{"title":"HALIFAX - M Fit: ARMA(5,7)","width":416,"height":179,
"encoding":{"x":{"field":"f","type":"quantitative","title":"frequency","scale":{"domain":[-0.115,3.175],"nice":false,"zero":false},"axis":{"values":[0,0.5,1,1.5,2,2.5,3],"format":".1f","labelOverlap":false}},"y":{"field":"y","type":"quantitative","title":"log(power spectrum)-10","scale":{"domain":[-26.7,6.3],"nice":false,"zero":false},"axis":{"values":[-25,-20,-15,-10,-5,0,5],"format":"d","labelOverlap":false}}},
"layer":[
{"data":{"name":"hal"},"mark":{"type":"area","color":"black","stroke":"black","strokeWidth":0.8},"encoding":{"y2":{"field":"hi"}}},
{"data":{"name":"hal_sp"},"mark":{"type":"rule","color":"black","strokeWidth":1.6,"clip":true},"encoding":{"y2":{"field":"b"}}},
{"data":{"name":"hal_m"},"mark":{"type":"line","color":"black","strokeWidth":1.8,"strokeDash":[1.5,2.5],"clip":true},"encoding":{}}
]},
{"title":"HALIFAX - ML Fit: ARMA(5,7)","width":416,"height":179,
"encoding":{"x":{"field":"f","type":"quantitative","title":"frequency","scale":{"domain":[-0.115,3.175],"nice":false,"zero":false},"axis":{"values":[0,0.5,1,1.5,2,2.5,3],"format":".1f","labelOverlap":false}},"y":{"field":"y","type":"quantitative","title":"log(power spectrum)-10","scale":{"domain":[-26.7,6.3],"nice":false,"zero":false},"axis":{"values":[-25,-20,-15,-10,-5,0,5],"format":"d","labelOverlap":false}}},
"layer":[
{"data":{"name":"hal"},"mark":{"type":"area","color":"black","stroke":"black","strokeWidth":0.8},"encoding":{"y2":{"field":"hi"}}},
{"data":{"name":"hal_sp"},"mark":{"type":"rule","color":"black","strokeWidth":1.6,"clip":true},"encoding":{"y2":{"field":"b"}}},
{"data":{"name":"hal_ml"},"mark":{"type":"line","color":"black","strokeWidth":1.8,"strokeDash":[1.5,2.5],"clip":true},"encoding":{}}
]},
{"title":"SYDNEY - M Fit: ARMA(8,3)","width":416,"height":179,
"encoding":{"x":{"field":"f","type":"quantitative","title":"frequency","scale":{"domain":[-0.115,3.175],"nice":false,"zero":false},"axis":{"values":[0,0.5,1,1.5,2,2.5,3],"format":".1f","labelOverlap":false}},"y":{"field":"y","type":"quantitative","title":"log(power spectrum)-10","scale":{"domain":[-26.7,6.3],"nice":false,"zero":false},"axis":{"values":[-25,-20,-15,-10,-5,0,5],"format":"d","labelOverlap":false}}},
"layer":[
{"data":{"name":"syd"},"mark":{"type":"area","color":"black","stroke":"black","strokeWidth":0.8},"encoding":{"y2":{"field":"hi"}}},
{"data":{"name":"syd_sp"},"mark":{"type":"rule","color":"black","strokeWidth":1.6,"clip":true},"encoding":{"y2":{"field":"b"}}},
{"data":{"name":"syd_m"},"mark":{"type":"line","color":"black","strokeWidth":1.8,"strokeDash":[1.5,2.5],"clip":true},"encoding":{}}
]},
{"title":"SYDNEY - ML Fit: ARMA(8,3)","width":416,"height":179,
"encoding":{"x":{"field":"f","type":"quantitative","title":"frequency","scale":{"domain":[-0.115,3.175],"nice":false,"zero":false},"axis":{"values":[0,0.5,1,1.5,2,2.5,3],"format":".1f","labelOverlap":false}},"y":{"field":"y","type":"quantitative","title":"log(power spectrum)-10","scale":{"domain":[-26.7,6.3],"nice":false,"zero":false},"axis":{"values":[-25,-20,-15,-10,-5,0,5],"format":"d","labelOverlap":false}}},
"layer":[
{"data":{"name":"syd"},"mark":{"type":"area","color":"black","stroke":"black","strokeWidth":0.8},"encoding":{"y2":{"field":"hi"}}},
{"data":{"name":"syd_sp"},"mark":{"type":"rule","color":"black","strokeWidth":1.6,"clip":true},"encoding":{"y2":{"field":"b"}}},
{"data":{"name":"syd_ml"},"mark":{"type":"line","color":"black","strokeWidth":1.8,"strokeDash":[1.5,2.5],"clip":true},"encoding":{}}
]},
{"title":"YARMOUTH - M Fit: ARMA(6,5)","width":416,"height":179,
"encoding":{"x":{"field":"f","type":"quantitative","title":"frequency","scale":{"domain":[-0.115,3.175],"nice":false,"zero":false},"axis":{"values":[0,0.5,1,1.5,2,2.5,3],"format":".1f","labelOverlap":false}},"y":{"field":"y","type":"quantitative","title":"log(power spectrum)-10","scale":{"domain":[-26.7,6.3],"nice":false,"zero":false},"axis":{"values":[-25,-20,-15,-10,-5,0,5],"format":"d","labelOverlap":false}}},
"layer":[
{"data":{"name":"yar"},"mark":{"type":"area","color":"black","stroke":"black","strokeWidth":0.8},"encoding":{"y2":{"field":"hi"}}},
{"data":{"name":"yar_sp"},"mark":{"type":"rule","color":"black","strokeWidth":1.6,"clip":true},"encoding":{"y2":{"field":"b"}}},
{"data":{"name":"yar_m"},"mark":{"type":"line","color":"black","strokeWidth":1.8,"strokeDash":[1.5,2.5],"clip":true},"encoding":{}}
]},
{"title":"YARMOUTH - ML Fit: ARMA(6,5)","width":416,"height":179,
"encoding":{"x":{"field":"f","type":"quantitative","title":"frequency","scale":{"domain":[-0.115,3.175],"nice":false,"zero":false},"axis":{"values":[0,0.5,1,1.5,2,2.5,3],"format":".1f","labelOverlap":false}},"y":{"field":"y","type":"quantitative","title":"log(power spectrum)-10","scale":{"domain":[-26.7,6.3],"nice":false,"zero":false},"axis":{"values":[-25,-20,-15,-10,-5,0,5],"format":"d","labelOverlap":false}}},
"layer":[
{"data":{"name":"yar"},"mark":{"type":"area","color":"black","stroke":"black","strokeWidth":0.8},"encoding":{"y2":{"field":"hi"}}},
{"data":{"name":"yar_sp"},"mark":{"type":"rule","color":"black","strokeWidth":1.6,"clip":true},"encoding":{"y2":{"field":"b"}}},
{"data":{"name":"yar_ml"},"mark":{"type":"line","color":"black","strokeWidth":1.8,"strokeDash":[1.5,2.5],"clip":true},"encoding":{}}
]}
],
"config":{
"font":"Liberation Sans",
"view":{"stroke":"black","strokeWidth":2},
"axis":{"domain":false,"grid":false,"ticks":true,"tickColor":"black","tickSize":4,"labelOverlap":false,"labelFont":"Liberation Sans","labelFontSize":9,"labelFontWeight":"bold","labelColor":"black","titleFont":"Liberation Sans","titleFontSize":10,"titleFontWeight":"bold","titleColor":"black"},
"axisX":{"labelPadding":5,"titlePadding":3},
"axisY":{"labelAngle":-90,"labelAlign":"center","labelBaseline":"bottom","labelPadding":4,"titlePadding":4,"labelOverlap":false},
"title":{"font":"Liberation Sans","fontSize":16.5,"fontWeight":"bold","color":"black","offset":10,"anchor":"middle"}
}
}
